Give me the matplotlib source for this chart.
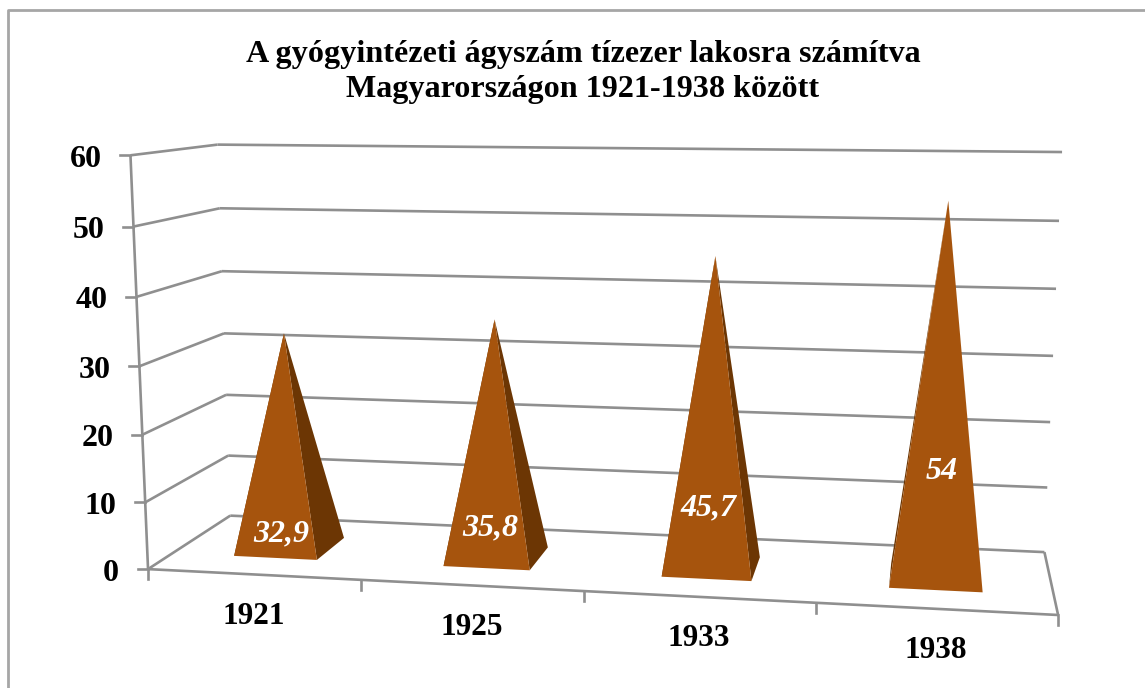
import matplotlib
matplotlib.use("Agg")
import matplotlib.pyplot as plt
import numpy as np

years = ["1921", "1925", "1933", "1938"]
beds = [32.9, 35.8, 45.7, 54]
bed_labels = ["32,9", "35,8", "45,7", "54"]
value_ticks = [0, 10, 20, 30, 40, 50, 60]
title = "A gyógyintézeti ágyszám tízezer lakosra számítva\nMagyarországon 1921-1938 között"

GRAY = "#8F8F8F"
FRONT = "#A6540D"
SIDE = "#6C3604"

# where the corners of the 3d box sit on the canvas: (across, depth, value) -> pixel
box_points = [
    (0, 0, 0, 148.3, 569), (0, 0, 60, 130, 155.7),
    (0, 1, 0, 230, 515.7), (0, 1, 60, 218, 144.3),
    (1, 1, 0, 1044.3, 552.4), (1, 1, 60, 1062, 152),
    (1, 0, 0, 1058.3, 614.7),
]


def fit_camera(points):
    rows, rhs = [], []
    for u, d, v, px, py in points:
        v = v / 60
        rows.append([u, d, v, 1, 0, 0, 0, 0, -px * u, -px * d, -px * v])
        rows.append([0, 0, 0, 0, u, d, v, 1, -py * u, -py * d, -py * v])
        rhs += [px, py]
    m = np.linalg.lstsq(np.array(rows, float), np.array(rhs, float), rcond=None)[0]
    return np.append(m, 1).reshape(3, 4)


cam = fit_camera(box_points)


def project(u, d, v):
    p = cam @ np.array([u, d, v / 60, 1])
    return p[0] / p[2], p[1] / p[2]


def line3d(ax, a, b, **kw):
    xa, ya = project(*a)
    xb, yb = project(*b)
    ax.plot([xa, xb], [ya, yb], color=GRAY, lw=1.9, solid_capstyle="butt", zorder=1, **kw)


fig = plt.figure(figsize=(11.45, 6.88), dpi=100)
ax = fig.add_axes([0, 0, 1, 1])
ax.set_xlim(0, 1145)
ax.set_ylim(688, 0)
ax.axis("off")
serif = "Liberation Serif"

# chart border, only top and left are inside the crop
ax.plot([7.5, 7.5, 1145], [688, 10, 10], color="#A6A6A6", lw=2, zorder=1)

ax.text(583, 72, title, ha="center", va="center", family=serif, weight="bold",
        fontsize=23.1, linespacing=1.3, color="black")

# walls and floor
for v in value_ticks:
    line3d(ax, (0, 0, v), (0, 1, v))
    line3d(ax, (0, 1, v), (1, 1, v))
    x, y = project(0, 0, v)
    ax.plot([x - 10, x], [y, y], color=GRAY, lw=1.9, zorder=1)
    ax.text(x - 29, y + 4, str(v), ha="right", va="center", family=serif,
            weight="bold", fontsize=23, color="black")
line3d(ax, (0, 0, 0), (0, 0, 60))
line3d(ax, (0, 0, 0), (1, 0, 0))
line3d(ax, (1, 0, 0), (1, 1, 0))

n = len(years)
for i in range(n + 1):
    x, y = project(i / n, 0, 0)
    ax.plot([x, x], [y, y + 10], color=GRAY, lw=1.9, zorder=1)

# pyramids
half_w = 0.05
d0, d1 = 0.28, 0.68
label_share = [0.11, 0.17, 0.23, 0.315]
label_shift = [7, 4, 1, 2]
for i, (year, val, txt) in enumerate(zip(years, beds, bed_labels)):
    uc = (i + 0.5) / n
    dm = (d0 + d1) / 2
    apex = project(uc, dm, val)
    fl = project(uc - half_w, d0, 0)
    fr = project(uc + half_w, d0, 0)
    br = project(uc + half_w, d1, 0)
    bl = project(uc - half_w, d1, 0)
    ax.fill(*zip(bl, fl, apex), color=SIDE, lw=0, zorder=2)
    ax.fill(*zip(fr, br, apex), color=SIDE, lw=0, zorder=3)
    ax.fill(*zip(fl, fr, apex), color=FRONT, lw=0, zorder=4)
    lx, ly = project(uc, d0, val * label_share[i])
    ax.text(lx + label_shift[i], ly, txt, ha="center", va="center", family=serif, weight="bold",
            style="italic", fontsize=23, color="white", zorder=5)
    x, y = project(uc, 0, 0)
    ax.text(x, y + 42, year, ha="center", va="center", family=serif, weight="bold",
            fontsize=22.5, color="black")

fig.savefig("out.png", dpi=100)
